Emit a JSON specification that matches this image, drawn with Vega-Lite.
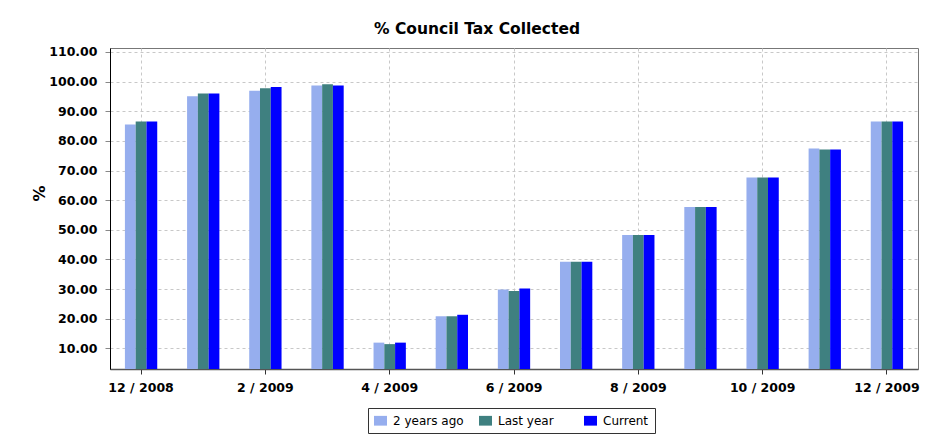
{
  "$schema": "https://vega.github.io/schema/vega-lite/v6.json",
  "autosize": {"type": "none"},
  "padding": {"left": 110, "top": 48, "right": 23, "bottom": 68},
  "width": 808,
  "height": 321,
  "background": "white",
  "title": {"text": "% Council Tax Collected", "dx": -37, "offset": 8},
  "data": {
    "values": [
      {"month": "12 / 2008", "series": "2 years ago", "pct": 85.5},
      {"month": "12 / 2008", "series": "Last year", "pct": 86.5},
      {"month": "12 / 2008", "series": "Current", "pct": 86.5},
      {"month": "1 / 2009", "series": "2 years ago", "pct": 95.1},
      {"month": "1 / 2009", "series": "Last year", "pct": 96.0},
      {"month": "1 / 2009", "series": "Current", "pct": 96.0},
      {"month": "2 / 2009", "series": "2 years ago", "pct": 96.9},
      {"month": "2 / 2009", "series": "Last year", "pct": 97.8},
      {"month": "2 / 2009", "series": "Current", "pct": 98.2},
      {"month": "3 / 2009", "series": "2 years ago", "pct": 98.7},
      {"month": "3 / 2009", "series": "Last year", "pct": 99.1},
      {"month": "3 / 2009", "series": "Current", "pct": 98.7},
      {"month": "4 / 2009", "series": "2 years ago", "pct": 11.9},
      {"month": "4 / 2009", "series": "Last year", "pct": 11.4},
      {"month": "4 / 2009", "series": "Current", "pct": 11.9},
      {"month": "5 / 2009", "series": "2 years ago", "pct": 20.8},
      {"month": "5 / 2009", "series": "Last year", "pct": 20.8},
      {"month": "5 / 2009", "series": "Current", "pct": 21.3},
      {"month": "6 / 2009", "series": "2 years ago", "pct": 29.8},
      {"month": "6 / 2009", "series": "Last year", "pct": 29.3},
      {"month": "6 / 2009", "series": "Current", "pct": 30.2},
      {"month": "7 / 2009", "series": "2 years ago", "pct": 39.2},
      {"month": "7 / 2009", "series": "Last year", "pct": 39.2},
      {"month": "7 / 2009", "series": "Current", "pct": 39.2},
      {"month": "8 / 2009", "series": "2 years ago", "pct": 48.2},
      {"month": "8 / 2009", "series": "Last year", "pct": 48.2},
      {"month": "8 / 2009", "series": "Current", "pct": 48.2},
      {"month": "9 / 2009", "series": "2 years ago", "pct": 57.7},
      {"month": "9 / 2009", "series": "Last year", "pct": 57.7},
      {"month": "9 / 2009", "series": "Current", "pct": 57.7},
      {"month": "10 / 2009", "series": "2 years ago", "pct": 67.6},
      {"month": "10 / 2009", "series": "Last year", "pct": 67.6},
      {"month": "10 / 2009", "series": "Current", "pct": 67.6},
      {"month": "11 / 2009", "series": "2 years ago", "pct": 77.4},
      {"month": "11 / 2009", "series": "Last year", "pct": 77.1},
      {"month": "11 / 2009", "series": "Current", "pct": 77.1},
      {"month": "12 / 2009", "series": "2 years ago", "pct": 86.5},
      {"month": "12 / 2009", "series": "Last year", "pct": 86.5},
      {"month": "12 / 2009", "series": "Current", "pct": 86.5}
    ]
  },
  "mark": {"type": "bar", "clip": true},
  "encoding": {
    "x": {
      "field": "month",
      "type": "nominal",
      "sort": null,
      "scale": {"paddingInner": 0.48, "paddingOuter": 0.24},
      "axis": {
        "title": null,
        "labelAngle": 0,
        "values": ["12 / 2008", "2 / 2009", "4 / 2009", "6 / 2009", "8 / 2009", "10 / 2009", "12 / 2009"],
        "grid": true,
        "bandPosition": 0.5,
        "tickSize": 5,
        "labelPadding": 7,
        "tickColor": "#333333",
        "domainColor": "#555555",
        "domainWidth": 1.5
      }
    },
    "xOffset": {
      "field": "series",
      "type": "nominal",
      "sort": ["2 years ago", "Last year", "Current"],
      "scale": {"paddingInner": 0, "paddingOuter": 0}
    },
    "y": {
      "field": "pct",
      "type": "quantitative",
      "scale": {"domain": [3, 111.35], "nice": false, "zero": false},
      "axis": {
        "title": "%",
        "values": [10, 20, 30, 40, 50, 60, 70, 80, 90, 100, 110],
        "format": ".2f",
        "tickSize": 5,
        "labelPadding": 8,
        "tickColor": "#888888",
        "domainColor": "#000000",
        "titleAngle": -90,
        "titleX": -71,
        "titleY": 145,
        "titleBaseline": "middle",
        "titleAlign": "center",
        "titleFontSize": 16
      }
    },
    "color": {
      "field": "series",
      "type": "nominal",
      "sort": ["2 years ago", "Last year", "Current"],
      "scale": {"domain": ["2 years ago", "Last year", "Current"], "range": ["#96AEEE", "#3F8080", "#0000FF"]},
      "legend": {
        "title": null,
        "orient": "none",
        "legendX": 258,
        "legendY": 360,
        "direction": "horizontal",
        "gridAlign": "all",
        "columnPadding": 15,
        "symbolType": "M-1,-0.75H1V0.75H-1Z",
        "symbolSize": 169,
        "symbolStrokeWidth": 0,
        "symbolOffset": 0,
        "labelFontSize": 12,
        "labelFont": "DejaVu Sans",
        "labelColor": "#000000",
        "labelOffset": 6,
        "strokeColor": "#333333",
        "fillColor": "white",
        "padding": 6
      }
    }
  },
  "config": {
    "font": "DejaVu Sans",
    "title": {"font": "DejaVu Sans", "fontSize": 15.5, "fontWeight": "bold", "color": "#000000", "anchor": "middle"},
    "axis": {
      "labelFont": "DejaVu Sans",
      "labelFontSize": 12.5,
      "labelFontWeight": "bold",
      "labelColor": "#000000",
      "titleFont": "DejaVu Sans",
      "titleFontWeight": "bold",
      "titleColor": "#000000",
      "gridColor": "#C8C8C8",
      "gridDash": [3, 3],
      "gridWidth": 1
    },
    "view": {"stroke": "#777777", "strokeWidth": 1}
  }
}
